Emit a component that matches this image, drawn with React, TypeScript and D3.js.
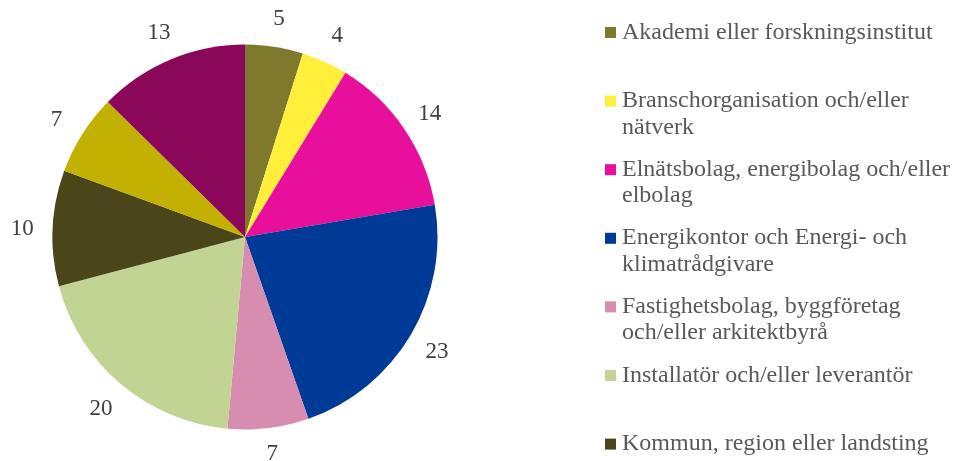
import React from "react";
import * as d3 from "d3";

const categories = [
  "Akademi eller forskningsinstitut",
  "Branschorganisation och/eller nätverk",
  "Elnätsbolag, energibolag och/eller elbolag",
  "Energikontor och Energi- och klimatrådgivare",
  "Fastighetsbolag, byggföretag och/eller arkitektbyrå",
  "Installatör och/eller leverantör",
  "Kommun, region eller landsting",
  "Övrig organisation",
  "Annan aktör",
];
const legendLines = [
  ["Akademi eller forskningsinstitut"],
  ["Branschorganisation och/eller", "nätverk"],
  ["Elnätsbolag, energibolag och/eller", "elbolag"],
  ["Energikontor och Energi- och", "klimatrådgivare"],
  ["Fastighetsbolag, byggföretag", "och/eller arkitektbyrå"],
  ["Installatör och/eller leverantör"],
  ["Kommun, region eller landsting"],
  ["Övrig organisation"],
  ["Annan aktör"],
];
const values = [5, 4, 14, 23, 7, 20, 10, 7, 13];
const colors = [
  "#7F792E",
  "#FFEF3A",
  "#E70F9B",
  "#003A97",
  "#D78DAF",
  "#C2D493",
  "#4B461A",
  "#C2B100",
  "#8B0759",
];

const W = 953;
const H = 461;
const cx = 245;
const cy = 237;
const R = 192.5;
const labelR = 223;

export default function App() {
  const pie = d3.pie<number>().sort(null).value((d) => d)(values);
  const arc = d3.arc<d3.PieArcDatum<number>>().innerRadius(0).outerRadius(R);
  const labelArc = d3
    .arc<d3.PieArcDatum<number>>()
    .innerRadius(labelR)
    .outerRadius(labelR);

  const legendY0 = 38.5;
  const legendStep = 68.6;
  const lineH = 26.5;

  const slices = pie.map((p, i) => (
    <path key={"s" + i} d={arc(p) || ""} fill={colors[i]} transform={`translate(${cx},${cy})`} />
  ));
  const labels = pie.map((p, i) => {
    const [x, y] = labelArc.centroid(p);
    const by = Math.min(cy + y + 8, H - 1.5);
    return (
      <text key={"l" + i} x={cx + x} y={by} textAnchor="middle" fontSize={23} fontFamily="Liberation Serif" fill="#404040">
        {values[i]}
      </text>
    );
  });
  const legend: React.ReactNode[] = [];
  categories.forEach((c, i) => {
    const base = legendY0 + i * legendStep;
    if (base > H) return;
    legend.push(<rect key={"r" + i} x={605} y={base - 11.5} width={11} height={11} fill={colors[i]} />);
    legendLines[i].forEach((l, j) => {
      legend.push(
        <text key={"t" + i + "_" + j} x={622} y={base + j * lineH} fontSize={24} fontFamily="Liberation Serif" fill="#595959">
          {l}
        </text>
      );
    });
  });

  return (
    <svg width={W} height={H} style={{ position: "fixed", left: 0, top: 0 }}>
      {slices}
      {labels}
      {legend}
    </svg>
  );
}
